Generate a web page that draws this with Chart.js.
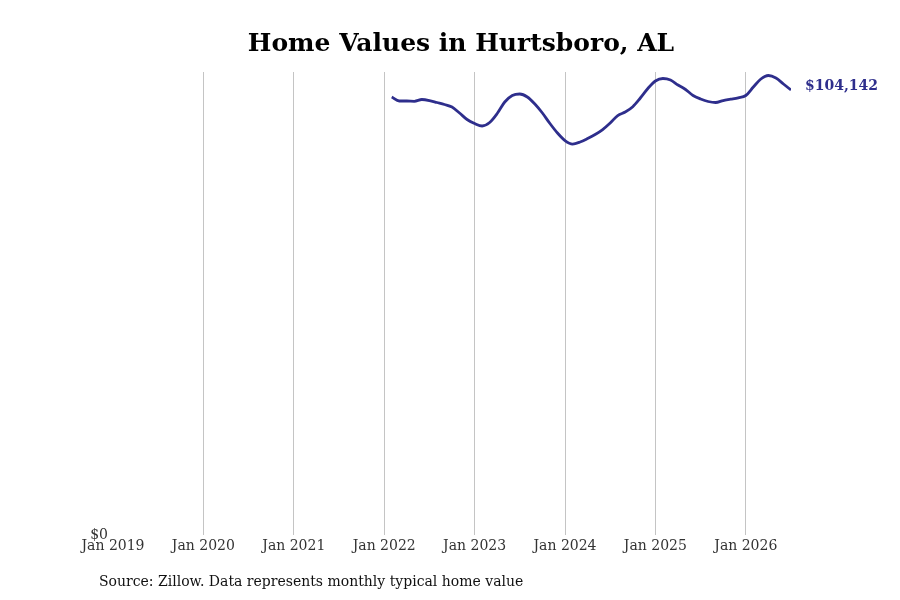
<!DOCTYPE html>
<html>
<head>
<meta charset="utf-8">
<script src="https://cdn.jsdelivr.net/npm/chart.js@4.4.1/dist/chart.umd.min.js"></script>
<style>
  html, body { margin: 0; padding: 0; background: #fff; }
  #wrap { width: 900px; height: 600px; }
</style>
</head>
<body>
<div id="wrap"><canvas id="homeChart" width="900" height="600"></canvas></div>
<script>
// months counted from Jan 2019 (= 0)
const firstMonth = 37; // Feb 2022
const homeValues = [
  102505, 101569, 101569, 101499, 101920, 101686, 101218, 100750, 100165, 98761, 97239,
  96303, 95718, 96537, 98644, 101335, 102856, 103207, 102505, 100867, 98761, 96303, 94080,
  92325, 91506, 91974, 92793, 93729, 94899, 96420, 98176, 98995, 100235, 102271, 104494,
  106250, 106835, 106484, 105314, 104260, 102856, 102037, 101452, 101218, 101686, 101990, 102318,
  102856, 104845, 106718, 107537, 106952, 105548, 104142
];
const tickMonths = [0, 12, 24, 36, 48, 60, 72, 84];
const tickLabels = ["Jan 2019", "Jan 2020", "Jan 2021", "Jan 2022", "Jan 2023", "Jan 2024", "Jan 2025", "Jan 2026"];
const lastMonth = 90;
const yMax = 108355;

const titleText = "Home Values in Hurtsboro, AL";
const sourceText = "Source: Zillow. Data represents monthly typical home value";
const lineColor = "#2e2e8c";
const serif = "'DejaVu Serif', serif";

const points = homeValues.map((v, i) => ({ x: firstMonth + i, y: v }));

// title, source line and the value at the end of the line
const textPlugin = {
  id: "textPlugin",
  afterDraw(chart) {
    const { ctx } = chart;
    const meta = chart.getDatasetMeta(0);
    const last = meta.data[meta.data.length - 1];
    const value = homeValues[homeValues.length - 1];
    ctx.save();
    ctx.textBaseline = "middle";

    ctx.font = "bold 25px " + serif;
    ctx.fillStyle = "#000";
    ctx.textAlign = "center";
    ctx.fillText(titleText, 461, 44);

    ctx.font = "bold 14px " + serif;
    ctx.fillStyle = lineColor;
    ctx.textAlign = "left";
    ctx.fillText("$" + value.toLocaleString("en-US"), last.x + 14, last.y - 4);

    ctx.font = "14px " + serif;
    ctx.fillStyle = "#111";
    ctx.fillText(sourceText, 99, 582);
    ctx.restore();
  },
};

new Chart(document.getElementById("homeChart").getContext("2d"), {
  type: "line",
  data: {
    datasets: [
      {
        data: points,
        borderColor: lineColor,
        borderWidth: 2.8,
        pointRadius: 0,
        fill: false,
        cubicInterpolationMode: "monotone",
      },
    ],
  },
  options: {
    responsive: false,
    animation: false,
    layout: { padding: { top: 72, left: 63, right: 109, bottom: 42 } },
    plugins: {
      legend: { display: false },
      tooltip: { enabled: false },
      title: { display: false },
    },
    scales: {
      x: {
        type: "linear",
        min: 0,
        max: lastMonth,
        afterBuildTicks(scale) {
          scale.ticks = tickMonths.map((v) => ({ value: v }));
        },
        ticks: {
          color: "#333",
          font: { family: serif, size: 14 },
          padding: 3,
          maxRotation: 0,
          autoSkip: false,
          callback: (v) => tickLabels[tickMonths.indexOf(v)],
        },
        grid: {
          drawTicks: false,
          color: (c) => (c.tick && c.tick.value === 0 ? "rgba(0,0,0,0)" : "#c4c4c4"),
          lineWidth: 1,
        },
        border: { display: false },
      },
      y: {
        min: 0,
        max: yMax,
        afterBuildTicks(scale) {
          scale.ticks = [{ value: 0 }];
        },
        afterFit(scale) {
          scale.width = 50;
        },
        ticks: {
          color: "#333",
          font: { family: serif, size: 14 },
          padding: 5,
          callback: (v) => "$" + v,
        },
        grid: { display: false, drawTicks: false },
        border: { display: false },
      },
    },
  },
  plugins: [textPlugin],
});
</script>
</body>
</html>
